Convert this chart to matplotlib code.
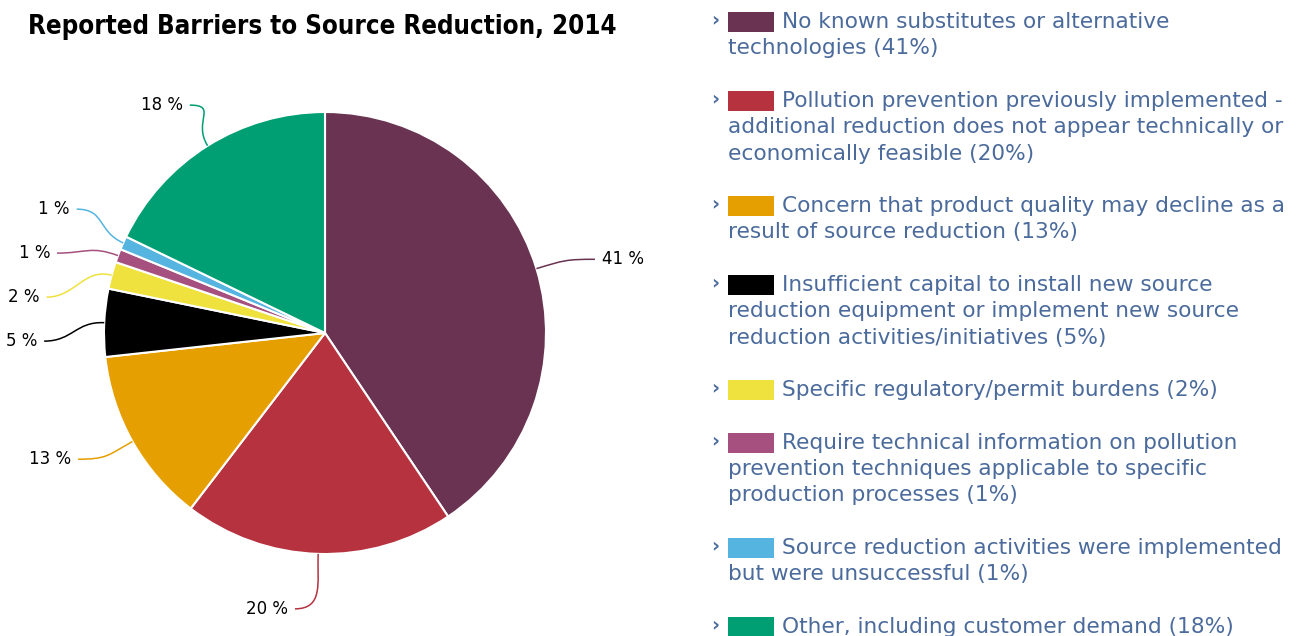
import matplotlib.pyplot as plt
import numpy as np
from matplotlib.path import Path
from matplotlib.patches import PathPatch

W, H = 1303, 636

title = "Reported Barriers to Source Reduction, 2014"

shares = [41, 20, 13, 5, 2, 1, 1, 18]
slice_colors = ["#693351", "#b5323e", "#e69f00", "#000000",
                "#efe23f", "#a5507f", "#56b4e0", "#009e73"]
# legend wording, already wrapped; the share is appended to the last line
legend_text = [
    ["No known substitutes or alternative", "technologies"],
    ["Pollution prevention previously implemented -",
     "additional reduction does not appear technically or",
     "economically feasible"],
    ["Concern that product quality may decline as a",
     "result of source reduction"],
    ["Insufficient capital to install new source",
     "reduction equipment or implement new source",
     "reduction activities/initiatives"],
    ["Specific regulatory/permit burdens"],
    ["Require technical information on pollution",
     "prevention techniques applicable to specific",
     "production processes"],
    ["Source reduction activities were implemented",
     "but were unsuccessful"],
    ["Other, including customer demand"],
]

LEGEND_COLOR = "#4b6b9c"


def fx(x):
    return x / W


def fy(y):
    return 1 - y / H


def distribute(targets, size):
    """Spread label centres so they are at least `size` apart.

    Overlapping labels are merged into one block centred on the
    midpoint of the block's lowest and highest target.
    """
    order = np.argsort(targets)
    boxes = [[i] for i in order]
    while True:
        pos = []
        for b in boxes:
            t = [targets[i] for i in b]
            centre = (min(t) + max(t)) / 2
            pos.append(centre - size * (len(b) - 1) / 2)
        merged = False
        for k in range(len(boxes) - 1):
            top_of_k = pos[k] + size * len(boxes[k])
            if top_of_k > pos[k + 1]:
                boxes[k] = boxes[k] + boxes.pop(k + 1)
                merged = True
                break
        if not merged:
            break
    out = np.empty(len(targets))
    for b, p in zip(boxes, pos):
        for j, i in enumerate(b):
            out[i] = p + j * size
    return out


fig = plt.figure(figsize=(W / 100, H / 100), dpi=100)

# pie area: centre at (325, 333) px, radius 221 px
cx, cy, rad = 325, 333, 221
ax = fig.add_axes([0, 0, 650 / W, 1])

wedges, _ = ax.pie(shares, colors=slice_colors, startangle=90, counterclock=False,
                   radius=1, wedgeprops=dict(edgecolor="white", linewidth=1.5))
ax.set_xlim(-cx / rad, (650 - cx) / rad)
ax.set_ylim(-(H - cy) / rad, cy / rad)
ax.set_aspect("auto")
ax.axis("off")

# data labels with curved connectors
mid = np.array([np.deg2rad((w.theta1 + w.theta2) / 2) for w in wedges])
lab_r = (rad + 30) / rad
sin = np.sin(mid)
ys = (lab_r + 25 / rad * sin ** 2) * sin
left = np.cos(mid) < 0
for side in (left, ~left):
    idx = np.where(side)[0]
    ys[idx] = distribute(ys[idx], 44 / rad)

for i, w in enumerate(wedges):
    y = ys[i]
    sgn = -1 if left[i] else 1
    base = np.sqrt(max(lab_r ** 2 - y ** 2, 0))
    tx = sgn * (base + 37 / rad)
    p0 = np.array([np.cos(mid[i]), np.sin(mid[i])])
    p1 = p0 * 1.13
    p3 = np.array([tx - sgn * 7 / rad, y])
    p2 = np.array([p3[0] - sgn * 0.13, y])
    path = Path([p0, p1, p2, p3], [Path.MOVETO, Path.CURVE4, Path.CURVE4, Path.CURVE4])
    ax.add_patch(PathPatch(path, facecolor="none", edgecolor=slice_colors[i], lw=1.1))
    ax.text(tx, y, f"{shares[i]} %", ha="right" if left[i] else "left", va="center",
            fontsize=12, color="black")

fig.text(fx(28), fy(27), title, ha="left", va="center", fontsize=18.5,
         fontweight="bold", fontstretch="condensed", family="DejaVu Sans")

# legend on the right
line_h = 26.3
y = 22
for text, share, color in zip(legend_text, shares, slice_colors):
    lines = list(text)
    lines[-1] = f"{lines[-1]} ({share}%)"
    fig.text(fx(711), fy(y - 2), "›", ha="left", va="center", fontsize=14,
             color=LEGEND_COLOR, fontweight="bold")
    fig.patches.append(plt.Rectangle((fx(728), fy(y + 10)), 46 / W, 20 / H,
                                     transform=fig.transFigure, facecolor=color,
                                     edgecolor="none"))
    for j, line in enumerate(lines):
        fig.text(fx(782 if j == 0 else 728), fy(y + j * line_h), line, ha="left",
                 va="center", fontsize=15.6, color=LEGEND_COLOR)
    y += (len(lines) + 1) * line_h

fig.savefig("out.png", dpi=100)
